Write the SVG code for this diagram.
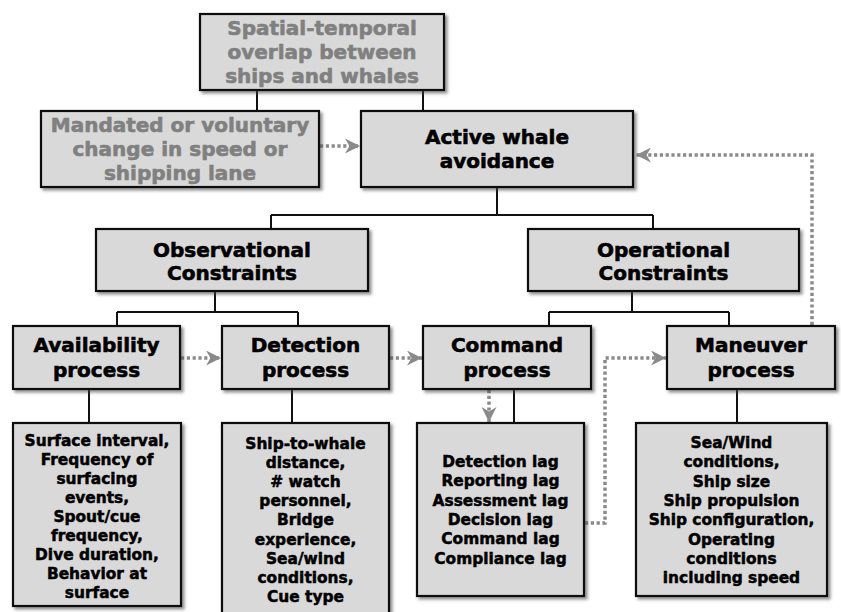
<svg xmlns="http://www.w3.org/2000/svg" width="841" height="612" viewBox="0 0 841 612">
<style>
.box{fill:#d9d9d9;stroke:#111;stroke-width:2.2;filter:url(#sh)}
.t{font-family:"DejaVu Sans","Liberation Sans",sans-serif;font-weight:bold;text-anchor:middle;fill:#000;stroke:#000;stroke-width:0.6}
.big{font-size:20px}
.gray{fill:#808080;stroke:#808080}
.sm{font-size:15.4px;stroke-width:0.5}
.ln{fill:none;stroke:#111;stroke-width:2}
.dot{fill:none;stroke:#8a8a8a;stroke-width:3.5;stroke-dasharray:3.2 2.6}
</style>
<defs>
<filter id="sh" x="-10%" y="-10%" width="125%" height="130%">
<feDropShadow dx="2.5" dy="2.5" stdDeviation="1.6" flood-color="#444" flood-opacity="0.6"/>
</filter>
<marker id="ah" viewBox="0 0 15 15" markerWidth="15" markerHeight="15" refX="15" refY="7.5" orient="auto" markerUnits="userSpaceOnUse">
<path d="M0,0 L15,7.5 L0,15 L4.5,7.5 z" fill="#8a8a8a"/>
</marker>
</defs>
<g id="connectors">
<path class="ln" d="M257,90 V111 M423,90 V111"/>
<path class="ln" d="M497,187 V215 M271,215 H653 M271,215 V229 M653,215 V229"/>
<path class="ln" d="M215,291 V312 M117,312 H298 M117,312 V326 M298,312 V326"/>
<path class="ln" d="M632,291 V312 M549,312 H729 M549,312 V326 M729,312 V326"/>
<path class="ln" d="M89,389 V423 M292,389 V423 M514,389 V423 M737,389 V423"/>
<path class="dot" d="M320,146 H360" marker-end="url(#ah)"/>
<path class="dot" d="M181,358 H221" marker-end="url(#ah)"/>
<path class="dot" d="M390,358 H422" marker-end="url(#ah)"/>
<path class="dot" d="M489,390 V422" marker-end="url(#ah)"/>
<path class="dot" d="M585,523 H605 V358 H666" marker-end="url(#ah)"/>
<path class="dot" d="M812,325 V155 H636" marker-end="url(#ah)"/>
</g>
<g id="overlap">
<rect class="box" x="200" y="14" width="244" height="76"/>
<text class="t big gray" x="322" y="35">Spatial-temporal</text>
<text class="t big gray" x="322" y="59">overlap between</text>
<text class="t big gray" x="322" y="83">ships and whales</text>
</g>
<g id="mandated">
<rect class="box" x="41" y="111" width="278" height="76"/>
<text class="t big gray" x="180" y="132">Mandated or voluntary</text>
<text class="t big gray" x="180" y="156">change in speed or</text>
<text class="t big gray" x="180" y="180">shipping lane</text>
</g>
<g id="avoidance">
<rect class="box" x="361" y="111" width="272" height="76"/>
<text class="t big" x="497" y="144">Active whale</text>
<text class="t big" x="497" y="168">avoidance</text>
</g>
<g id="observational">
<rect class="box" x="96" y="229" width="272" height="62"/>
<text class="t big" x="232" y="257">Observational</text>
<text class="t big" x="232" y="280">Constraints</text>
</g>
<g id="operational">
<rect class="box" x="528" y="229" width="271" height="62"/>
<text class="t big" x="663.5" y="257">Operational</text>
<text class="t big" x="663.5" y="280">Constraints</text>
</g>
<g id="availability">
<rect class="box" x="13" y="326" width="167" height="63"/>
<text class="t big" x="96.5" y="352">Availability</text>
<text class="t big" x="96.5" y="377">process</text>
</g>
<g id="detection">
<rect class="box" x="222" y="326" width="167" height="63"/>
<text class="t big" x="305.5" y="352">Detection</text>
<text class="t big" x="305.5" y="377">process</text>
</g>
<g id="command">
<rect class="box" x="423" y="326" width="168" height="63"/>
<text class="t big" x="507" y="352">Command</text>
<text class="t big" x="507" y="377">process</text>
</g>
<g id="maneuver">
<rect class="box" x="667" y="326" width="168" height="63"/>
<text class="t big" x="751" y="352">Maneuver</text>
<text class="t big" x="751" y="377">process</text>
</g>
<g id="availability-factors">
<rect class="box" x="13" y="423" width="168" height="183"/>
<text class="t sm" x="97" y="445.5">Surface interval,</text>
<text class="t sm" x="97" y="464.5">Frequency of</text>
<text class="t sm" x="97" y="483.5">surfacing</text>
<text class="t sm" x="97" y="502.5">events,</text>
<text class="t sm" x="97" y="521.5">Spout/cue</text>
<text class="t sm" x="97" y="540.5">frequency,</text>
<text class="t sm" x="97" y="559.5">Dive duration,</text>
<text class="t sm" x="97" y="578.5">Behavior at</text>
<text class="t sm" x="97" y="597.5">surface</text>
</g>
<g id="detection-factors">
<rect class="box" x="222" y="423" width="167" height="192"/>
<text class="t sm" x="305.5" y="448.5">Ship-to-whale</text>
<text class="t sm" x="305.5" y="467.7">distance,</text>
<text class="t sm" x="305.5" y="486.9"># watch</text>
<text class="t sm" x="305.5" y="506.1">personnel,</text>
<text class="t sm" x="305.5" y="525.3">Bridge</text>
<text class="t sm" x="305.5" y="544.5">experience,</text>
<text class="t sm" x="305.5" y="563.7">Sea/wind</text>
<text class="t sm" x="305.5" y="582.9">conditions,</text>
<text class="t sm" x="305.5" y="602.1">Cue type</text>
</g>
<g id="command-factors">
<rect class="box" x="417" y="423" width="167" height="173"/>
<text class="t sm" x="500.5" y="467">Detection lag</text>
<text class="t sm" x="500.5" y="486.3">Reporting lag</text>
<text class="t sm" x="500.5" y="505.6">Assessment lag</text>
<text class="t sm" x="500.5" y="524.9">Decision lag</text>
<text class="t sm" x="500.5" y="544.2">Command lag</text>
<text class="t sm" x="500.5" y="563.5">Compliance lag</text>
</g>
<g id="maneuver-factors">
<rect class="box" x="636" y="423" width="191" height="173"/>
<text class="t sm" x="731.5" y="448">Sea/Wind</text>
<text class="t sm" x="731.5" y="467.3">conditions,</text>
<text class="t sm" x="731.5" y="486.6">Ship size</text>
<text class="t sm" x="731.5" y="505.9">Ship propulsion</text>
<text class="t sm" x="731.5" y="525.2">Ship configuration,</text>
<text class="t sm" x="731.5" y="544.5">Operating</text>
<text class="t sm" x="731.5" y="563.8">conditions</text>
<text class="t sm" x="731.5" y="583.1">including speed</text>
</g>
</svg>
